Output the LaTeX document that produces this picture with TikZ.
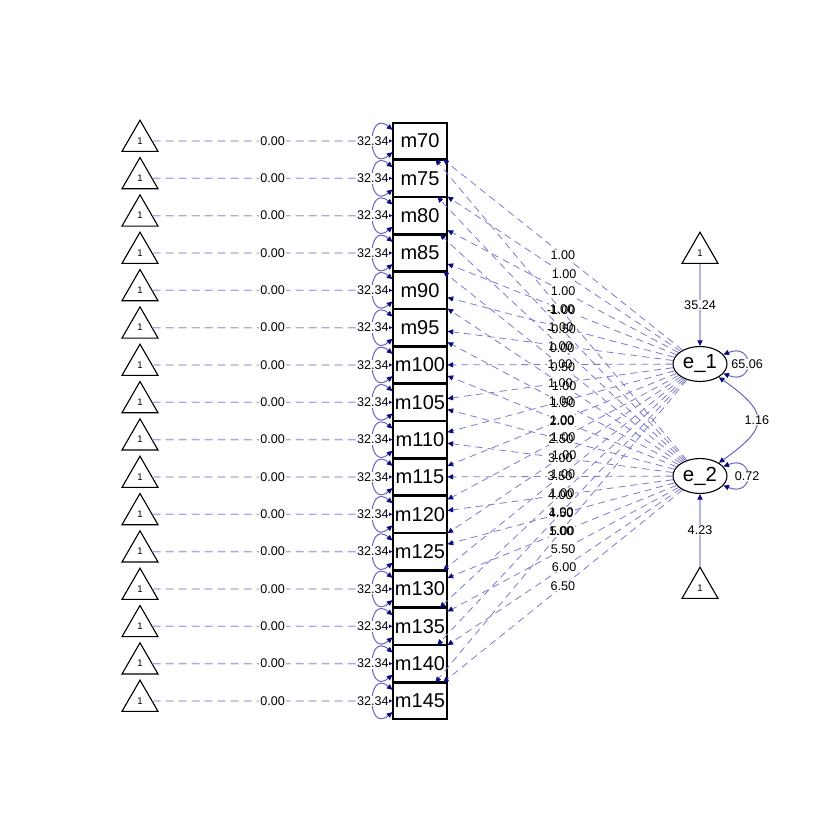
\documentclass[tikz,border=0pt]{standalone}
\usepackage{fontspec}
\setmainfont{Liberation Sans}
\usetikzlibrary{arrows.meta,shapes.geometric}

\definecolor{fixcol}{RGB}{170,170,226}
\definecolor{loadcol}{RGB}{122,122,208}
\definecolor{meancol}{RGB}{140,140,212}
\definecolor{loopcol}{RGB}{100,100,198}
\definecolor{tipcol}{RGB}{10,10,128}

\def\rows{70/-1.00,75/-0.50,80/0.00,85/0.50,90/1.00,95/1.50,100/2.00,105/2.50,110/3.00,115/3.50,120/4.00,125/4.50,130/5.00,135/5.50,140/6.00,145/6.50}

\begin{document}
\begin{tikzpicture}[x=0.5pt,y=-0.5pt,>={Triangle[length=2.8pt,width=2.6pt,color=tipcol]},
  manifest/.style={draw,rectangle,line width=0.55pt,minimum width=27pt,minimum height=18pt,inner sep=0pt,font=\fontsize{10}{12}\selectfont},
  latent/.style={draw,ellipse,line width=0.55pt,minimum width=27pt,minimum height=17.5pt,inner sep=0pt,font=\fontsize{10.2}{12}\selectfont},
  const/.style={draw,regular polygon,regular polygon sides=3,line width=0.55pt,minimum size=20.8pt,inner sep=0pt,font=\fontsize{4.8}{5}\selectfont},
  lbl/.style={inner sep=0.4pt,font=\fontsize{6.3}{7}\selectfont},
  lblbg/.style={lbl,fill=white}]
\useasboundingbox (0,0) rectangle (840,840);
% latent factors and their intercepts
\node[latent] (e1) at (700,364) {e\_1};
\node[latent] (e2) at (700,476) {e\_2};
\node[const]  (c1) at (700,253) {1};
\node[const]  (c2) at (700,588) {1};
% indicators
\foreach \m/\v [count=\i from 0] in \rows {
  \node[manifest] (m\m) at (420,141+37.33*\i) {m\m};
  \node[const]    (t\m) at (140,141+37.33*\i) {1};
}
\tikzset{fixedpath/.style={->,dash pattern=on 4pt off 2.5pt,draw=fixcol,line width=0.65pt},
         loadpath/.style={->,dash pattern=on 3.5pt off 2.5pt,draw=loadcol,line width=0.4pt},
         meanpath/.style={->,draw=meancol,line width=0.55pt},
         varloop/.style={<->,draw=loopcol,line width=0.5pt}}
% paths first
\foreach \m/\v in \rows {
  \path (t\m) edge[fixedpath] node[coordinate,midway] (lt\m) {} (m\m)
        (e1)  edge[loadpath]  node[coordinate,midway] (la\m) {} (m\m)
        (e2)  edge[loadpath]  node[coordinate,midway] (lb\m) {} (m\m);
  \draw[varloop] (m\m.158) .. controls +(140:17pt) and +(220:17pt) .. (m\m.202)
        node[coordinate,midway] (lv\m) {};
}
\path (c1) edge[meanpath] node[coordinate,midway] (lc1) {} (e1)
      (c2) edge[meanpath] node[coordinate,midway] (lc2) {} (e2);
\draw[varloop] (e1.22) .. controls +(22:17pt) and +(-22:17pt) .. (e1.-22)
      node[coordinate,midway] (le1) {};
\draw[varloop] (e2.22) .. controls +(22:17pt) and +(-22:17pt) .. (e2.-22)
      node[coordinate,midway] (le2) {};
\draw[varloop] (e1.-35) .. controls +(-35:31pt) and +(35:31pt) .. (e2.35)
      node[coordinate,midway] (lcv) {};
% label backgrounds, then texts
\foreach \m/\v in \rows {
  \node[lblbg] at (lt\m) {\phantom{0.00}};
  \node[lblbg] at (lv\m) {\phantom{32.34}};
  \node[lblbg] at (la\m) {\phantom{1.00}};
  \node[lblbg] at (lb\m) {\phantom{\v}};
}
\foreach \m/\v in \rows {
  \node[lbl] at (lt\m) {0.00};
  \node[lbl] at (lv\m) {32.34};
  \node[lbl] at (la\m) {1.00};
  \node[lbl] at (lb\m) {\v};
}
\node[lblbg] at (lc1) {35.24};
\node[lblbg] at (lc2) {4.23};
\node[lblbg] at (le1) {65.06};
\node[lblbg] at (le2) {0.72};
\node[lblbg] at (lcv) {1.16};
\end{tikzpicture}
\end{document}
